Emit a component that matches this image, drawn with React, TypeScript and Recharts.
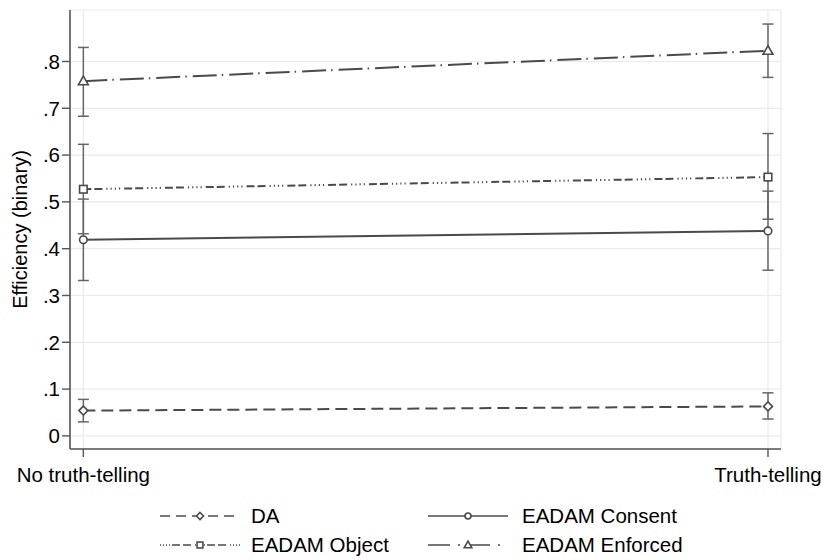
import React from 'react'
import {
  ComposedChart,
  Line,
  XAxis,
  YAxis,
  CartesianGrid,
  ErrorBar,
  Legend,
} from 'recharts'

const conditions = ['No truth-telling', 'Truth-telling']
const yTicks = [0, 0.1, 0.2, 0.3, 0.4, 0.5, 0.6, 0.7, 0.8]

const daMean = [0.054, 0.063]
const daLow = [0.03, 0.036]
const daHigh = [0.078, 0.092]

const consentMean = [0.419, 0.438]
const consentLow = [0.332, 0.354]
const consentHigh = [0.506, 0.523]

const objectMean = [0.527, 0.553]
const objectLow = [0.432, 0.463]
const objectHigh = [0.623, 0.646]

const enforcedMean = [0.758, 0.823]
const enforcedLow = [0.683, 0.766]
const enforcedHigh = [0.83, 0.88]

const err = (m: number[], lo: number[], hi: number[], i: number) => [m[i] - lo[i], hi[i] - m[i]]

const data = conditions.map((c, i) => ({
  x: i,
  name: c,
  da: daMean[i],
  daErr: err(daMean, daLow, daHigh, i),
  consent: consentMean[i],
  consentErr: err(consentMean, consentLow, consentHigh, i),
  object: objectMean[i],
  objectErr: err(objectMean, objectLow, objectHigh, i),
  enforced: enforcedMean[i],
  enforcedErr: err(enforcedMean, enforcedLow, enforcedHigh, i),
}))

const LINE = '#4a4a4a'
const BAR = '#666'
const FONT = '"Liberation Sans", Arial, sans-serif'

type Shape = 'diamond' | 'circle' | 'square' | 'triangle'

function marker(shape: Shape, cx: number, cy: number, s: number, key?: string | number) {
  const common = { fill: '#fff', stroke: LINE, strokeWidth: 1.6 }
  if (shape === 'circle') return <circle key={key} cx={cx} cy={cy} r={s * 0.42} {...common} />
  if (shape === 'square')
    return <rect key={key} x={cx - s * 0.42} y={cy - s * 0.42} width={s * 0.84} height={s * 0.84} {...common} />
  if (shape === 'diamond')
    return (
      <polygon
        key={key}
        points={`${cx},${cy - s / 2} ${cx + s / 2},${cy} ${cx},${cy + s / 2} ${cx - s / 2},${cy}`}
        {...common}
      />
    )
  return (
    <polygon
      key={key}
      points={`${cx},${cy - s * 0.55} ${cx + s * 0.55},${cy + s * 0.4} ${cx - s * 0.55},${cy + s * 0.4}`}
      {...common}
    />
  )
}

const dot = (shape: Shape) => (p: any) => marker(shape, p.cx, p.cy, 9, p.index)

const series = [
  { key: 'da', label: 'DA', shape: 'diamond' as Shape, dash: '12 6', legendDash: '10 6' },
  { key: 'consent', label: 'EADAM Consent', shape: 'circle' as Shape, dash: undefined, legendDash: undefined },
  {
    key: 'object',
    label: 'EADAM Object',
    shape: 'square' as Shape,
    dash: '8 3 8 4 1.2 3 1.2 3 1.2 3 1.2 4',
    legendDash: '1 2 1 2 1 2 1 2 8 3 8 4',
  },
  { key: 'enforced', label: 'EADAM Enforced', shape: 'triangle' as Shape, dash: '24 5 1.5 6', legendDash: '22 8 2 8' },
]

const legendPos = [
  { left: 160, top: 3 },
  { left: 428, top: 3 },
  { left: 160, top: 32 },
  { left: 428, top: 32 },
]

function renderLegend() {
  return (
    <div style={{ position: 'relative', width: 822, height: 56, fontFamily: FONT }}>
      {series.map((s, k) => {
        const p = legendPos[k]
        return (
          <div
            key={s.key}
            style={{ position: 'absolute', left: p.left, top: p.top, height: 20, display: 'flex', alignItems: 'center' }}
          >
            <svg width={80} height={16}>
              <line x1={0} y1={8} x2={80} y2={8} stroke={LINE} strokeWidth={1.5} strokeDasharray={s.legendDash} />
              {marker(s.shape, 40, 8, 7)}
            </svg>
            <span style={{ marginLeft: k % 2 === 0 ? 11 : 14, fontSize: 20.5, color: '#000', lineHeight: '20px' }}>
              {s.label}
            </span>
          </div>
        )
      })}
    </div>
  )
}

export default function App() {
  return (
    <div style={{ position: 'absolute', left: 0, top: 0, background: '#fff' }}>
      <ComposedChart
        width={822}
        height={560}
        data={data}
        margin={{ top: 10, right: 41, bottom: 1, left: 0 }}
      >
        <CartesianGrid stroke="#eaeaea" strokeWidth={1.2} />
        <XAxis
          dataKey="x"
          type="number"
          domain={[-0.0195, 1.019]}
          ticks={[0, 1]}
          tickFormatter={(v: number) => conditions[v]}
          axisLine={{ stroke: '#555', strokeWidth: 1.6 }}
          tickLine={{ stroke: '#555', strokeWidth: 1.4 }}
          tickSize={8}
          height={54}
          tick={{ fontSize: 20.5, fill: '#000', fontFamily: FONT, dy: 8 }}
        />
        <YAxis
          type="number"
          domain={[-0.028, 0.91]}
          ticks={yTicks}
          width={70}
          tickFormatter={(v: number) => (v === 0 ? '0' : v.toFixed(1).replace(/^0/, ''))}
          axisLine={{ stroke: '#555', strokeWidth: 1.6 }}
          tickLine={{ stroke: '#555', strokeWidth: 1.4 }}
          tickSize={8}
          tick={{ fontSize: 20.5, fill: '#000', fontFamily: FONT }}
          label={{
            value: 'Efficiency (binary)',
            angle: -90,
            position: 'center',
            dx: -15,
            style: { fontSize: 20, fill: '#000', fontFamily: FONT, textAnchor: 'middle' },
          }}
        />
        {series.map((s) => (
          <Line
            key={s.key}
            dataKey={s.key}
            type="linear"
            stroke={LINE}
            strokeWidth={2}
            strokeDasharray={s.dash}
            dot={dot(s.shape)}
            activeDot={false}
            isAnimationActive={false}
          >
            <ErrorBar dataKey={`${s.key}Err`} direction="y" width={5.5} stroke={BAR} strokeWidth={1.5} />
          </Line>
        ))}
        <Legend
          verticalAlign="bottom"
          content={renderLegend}
          wrapperStyle={{ left: 0, width: 822, height: 56 }}
        />
      </ComposedChart>
    </div>
  )
}
